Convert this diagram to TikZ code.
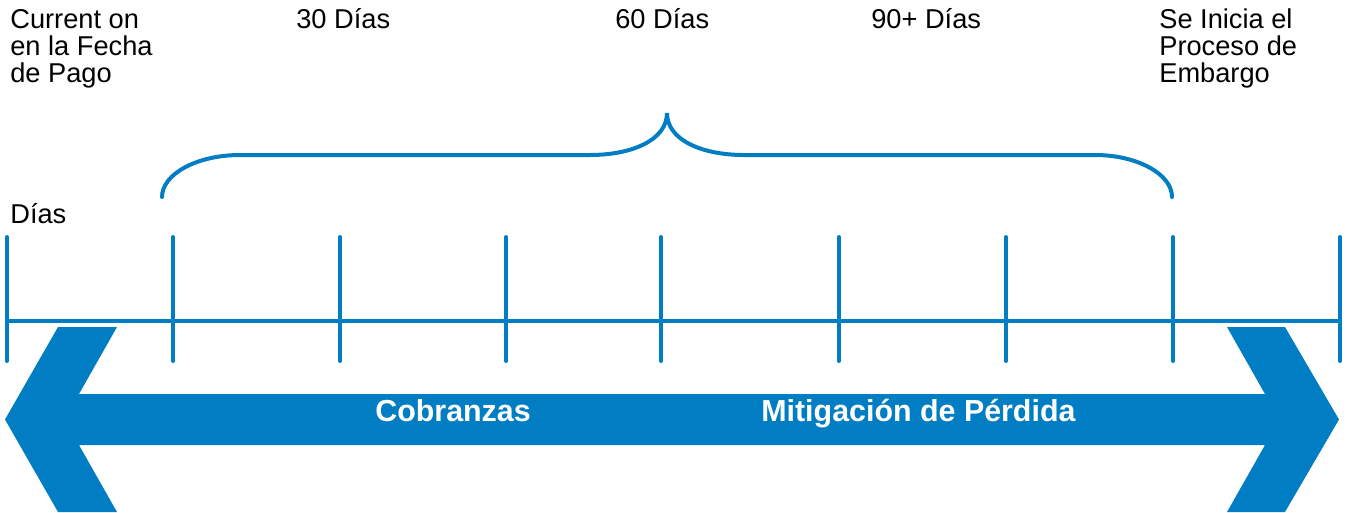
\documentclass[tikz,border=0pt]{standalone}
\usepackage{fontspec}
\setmainfont{Liberation Sans}
\usepackage{tikz}
\usetikzlibrary{calc}
\definecolor{timeblue}{RGB}{0,125,195}
\tikzstyle{caption} = [inner sep=0pt,align=left,font=\fontsize{15.5}{15.1}\selectfont]
\tikzstyle{phase} = [inner sep=0pt,text=white,font=\fontsize{17.3}{20}\selectfont\bfseries]
\tikzstyle{axis} = [draw=timeblue,line width=0.08cm]
\tikzstyle{tickline} = [axis,line cap=round]
\tikzstyle{bracket} = [axis,line cap=round]
\tikzstyle{band} = [fill=timeblue]

\begin{document}
\begin{tikzpicture}[x=0.02cm, y=-0.02cm]
    \useasboundingbox (0,0) rectangle (1347,512);

    % double arrow behind the time line
    \fill[band] (5,419.5) -- (58,327) -- (117,327) -- (79,394) -- (1265,394)
      -- (1227,327) -- (1285,327) -- (1339,419.5) -- (1285,512) -- (1227,512)
      -- (1265,445) -- (79,445) -- (117,512) -- (58,512) -- cycle;

    % time line with its ticks
    \draw[axis] (7,321) -- (1340,321);
    \foreach \x in {7,173,340,506,661,839,1006,1173,1340}
      \draw[tickline] (\x,237) -- (\x,361);

    % brace over the delinquency period
    \draw[bracket] (162,197) .. controls (162,174) and (197,155) .. (240,155)
      -- (590,155) .. controls (632,155) and (667,140) .. (667,113)
      .. controls (667,140) and (702,155) .. (744,155)
      -- (1095,155) .. controls (1137,155) and (1172,174) .. (1172,197);

    % texts (base of a multi-line node is its last line)
    \node[caption, anchor=base west] (current) at (10,82) {Current on\\en la Fecha\\de Pago};
    \node[caption, anchor=base west] (d30) at (296,28) {30 Días};
    \node[caption, anchor=base west] (d60) at (615,28) {60 Días};
    \node[caption, anchor=base west] (d90) at (871,28) {90+ Días};
    \node[caption, anchor=base west] (embargo) at (1159,82) {Se Inicia el\\Proceso de\\Embargo};
    \node[caption, anchor=base west] (dias) at (10,223) {Días};

    \node[phase, anchor=base west] (cobranzas) at (375,421) {Cobranzas};
    \node[phase, anchor=base west] (mitigacion) at (761,421) {Mitigación de Pérdida};
\end{tikzpicture}
\end{document}
